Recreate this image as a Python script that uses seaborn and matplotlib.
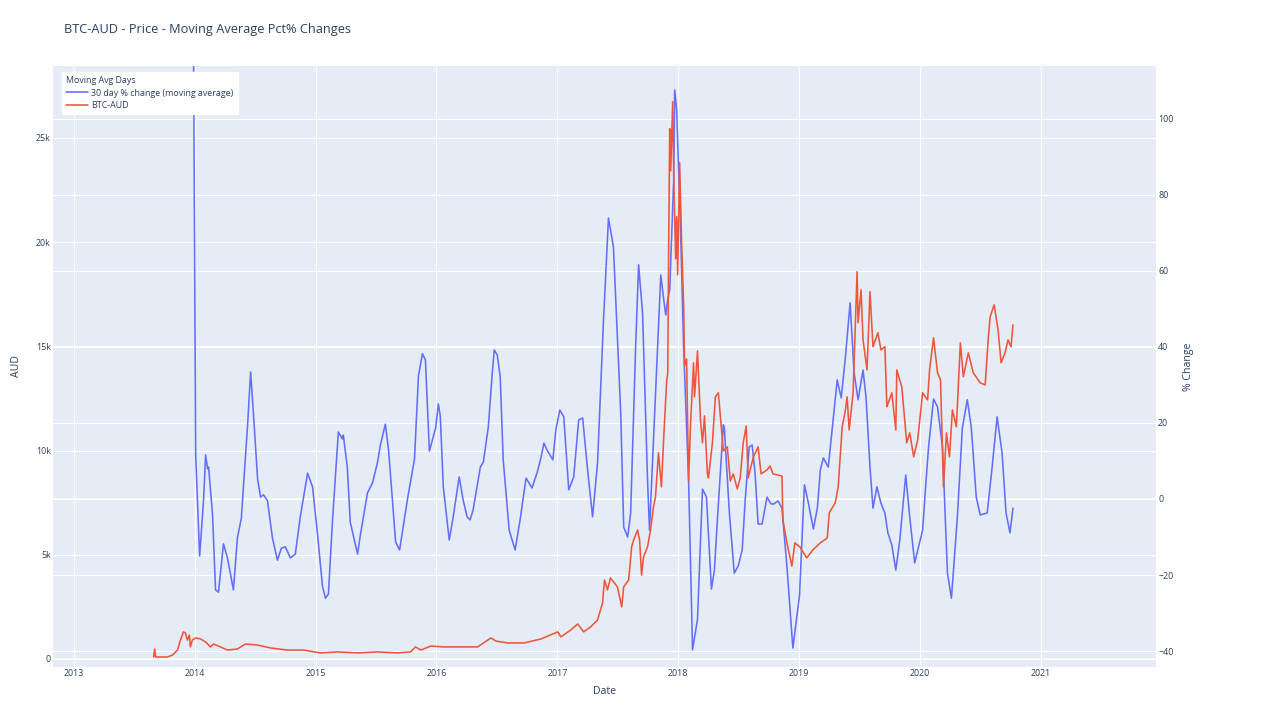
import matplotlib
matplotlib.use("Agg")
import matplotlib.pyplot as plt
import matplotlib.dates as mdates
import matplotlib.ticker as mticker
import pandas as pd
import seaborn as sns

# ---------------- data ----------------
pct_dates = [
    "2013-12-26",
    "2014-01-04", "2014-01-16", "2014-01-28", "2014-02-03", "2014-02-09", "2014-02-12", "2014-02-24",
    "2014-03-05", "2014-03-14", "2014-03-29", "2014-04-10", "2014-04-28", "2014-05-10", "2014-05-22",
    "2014-06-10", "2014-06-19", "2014-06-28", "2014-07-10", "2014-07-19", "2014-07-28", "2014-08-09",
    "2014-08-24", "2014-09-08", "2014-09-20", "2014-10-02", "2014-10-17", "2014-11-01", "2014-11-16",
    "2014-12-08", "2014-12-23",
    "2015-01-07", "2015-01-22", "2015-01-31", "2015-02-09", "2015-02-21", "2015-03-11", "2015-03-23",
    "2015-03-26", "2015-04-07", "2015-04-16", "2015-05-08", "2015-05-17", "2015-06-07", "2015-06-22",
    "2015-07-07", "2015-07-16", "2015-07-31", "2015-08-10", "2015-08-31", "2015-09-12", "2015-10-06",
    "2015-10-27", "2015-11-08", "2015-11-20", "2015-11-29", "2015-12-11", "2015-12-30",
    "2016-01-07", "2016-01-13", "2016-01-22", "2016-02-09", "2016-02-21", "2016-03-10", "2016-03-22",
    "2016-04-03", "2016-04-12", "2016-04-21", "2016-05-13", "2016-05-22", "2016-06-06", "2016-06-18",
    "2016-06-24", "2016-07-03", "2016-07-12", "2016-07-21", "2016-08-08", "2016-08-26", "2016-09-10",
    "2016-09-28", "2016-10-16", "2016-10-31", "2016-11-12", "2016-11-21", "2016-11-30", "2016-12-18",
    "2016-12-27",
    "2017-01-08", "2017-01-20", "2017-02-04", "2017-02-19", "2017-03-06", "2017-03-18", "2017-04-02",
    "2017-04-17", "2017-05-02", "2017-05-20", "2017-06-04", "2017-06-19", "2017-07-11", "2017-07-20",
    "2017-08-01", "2017-08-10", "2017-08-25", "2017-09-03", "2017-09-15", "2017-09-30", "2017-10-06",
    "2017-10-19", "2017-11-09", "2017-11-18", "2017-11-24", "2017-11-30", "2017-12-06", "2017-12-18",
    "2017-12-21", "2017-12-27",
    "2018-01-08", "2018-01-17", "2018-02-01", "2018-02-13", "2018-02-28", "2018-03-15", "2018-03-27",
    "2018-04-11", "2018-04-20", "2018-04-29", "2018-05-17", "2018-05-20", "2018-06-04", "2018-06-19",
    "2018-07-01", "2018-07-13", "2018-07-22", "2018-08-03", "2018-08-12", "2018-08-21", "2018-08-30",
    "2018-09-11", "2018-09-26", "2018-10-08", "2018-10-17", "2018-10-29", "2018-11-10", "2018-11-25",
    "2018-12-13",
    "2019-01-02", "2019-01-17", "2019-01-29", "2019-02-13", "2019-02-25", "2019-03-06", "2019-03-15",
    "2019-03-30", "2019-04-11", "2019-04-26", "2019-05-08", "2019-05-20", "2019-06-04", "2019-06-16",
    "2019-06-28", "2019-07-13", "2019-07-22", "2019-08-03", "2019-08-12", "2019-08-24", "2019-09-05",
    "2019-09-17", "2019-09-26", "2019-10-08", "2019-10-20", "2019-11-01", "2019-11-19", "2019-12-01",
    "2019-12-16",
    "2020-01-09", "2020-01-18", "2020-01-27", "2020-02-11", "2020-02-23", "2020-03-09", "2020-03-24",
    "2020-04-05", "2020-04-23", "2020-05-08", "2020-05-23", "2020-06-04", "2020-06-19", "2020-07-01",
    "2020-07-22", "2020-08-06", "2020-08-21", "2020-09-05", "2020-09-17", "2020-09-29", "2020-10-08",
]
pct_change = [
    160.0,
    11.6, -15.0, 0.0, 11.6, 7.9, 8.4, -4.2, -23.9, -24.5, -11.8,
    -15.5, -23.9, -10.3, -5.0, 19.7, 33.4, 21.8, 5.3, 0.5, 1.1,
    -0.5, -10.3, -16.1, -12.9, -12.6, -15.5, -14.5, -4.7, 6.8, 3.2,
    -9.2, -22.9, -26.1, -25.0, -6.1, 17.6, 15.8, 16.8, 8.4, -6.1,
    -14.5, -9.2, 1.6, 4.2, 9.5, 14.2, 19.7, 12.6, -11.3, -13.4,
    0.0, 10.5, 32.4, 38.2, 36.6, 12.6, 18.7,
    25.0, 21.8, 3.2, -10.8, -4.7, 5.8, -0.3, -4.7, -5.5, -2.9,
    8.4, 9.7, 18.9, 33.2, 39.2, 37.9, 32.1, 10.3, -8.2, -13.4,
    -5.5, 5.5, 2.9, 6.8, 10.8, 14.7, 12.9, 10.3, 18.2,
    23.4, 21.6, 2.4, 5.8, 20.8, 21.3, 7.6, -4.7, 9.5, 47.1,
    73.9, 66.3, 22.6, -7.4, -10.0, -3.7, 40.0, 61.6, 48.9, 5.0,
    -8.2, 17.4, 58.9, 52.4, 48.4, 52.4, 55.0, 83.9, 107.6, 102.4,
    70.3, 40.0, 5.0, -39.7, -31.6, 2.6, 0.5, -23.7, -18.7, -5.5,
    19.5, 18.7, -3.4, -19.5, -17.6, -13.4, -0.3, 13.7, 14.2, 6.6,
    -6.6, -6.6, 0.5, -1.3, -1.3, -0.5, -2.4, -17.6, -39.2,
    -25.5, 3.7, -1.1, -7.9, -2.4, 7.6, 10.8, 8.4, 18.7, 31.3,
    26.6, 36.6, 51.6, 33.2, 26.1, 33.9, 26.8, 8.4, -2.4, 3.2,
    -1.1, -3.7, -8.9, -12.1, -18.7, -10.8, 6.3, -4.7, -16.8,
    -8.2, 3.2, 13.7, 26.3, 24.2, 13.7, -19.5, -26.1, -4.7, 18.7,
    26.1, 18.9, 0.5, -4.2, -3.7, 8.4, 21.6, 12.1, -3.7, -8.9,
    -2.4,
]

price_dates = [
    "2013-08-30", "2013-09-02", "2013-09-05", "2013-10-11", "2013-10-26", "2013-11-10", "2013-11-19",
    "2013-11-28", "2013-12-04", "2013-12-10", "2013-12-16", "2013-12-19", "2013-12-25",
    "2014-01-04", "2014-01-19", "2014-02-03", "2014-02-18", "2014-02-27", "2014-03-20", "2014-04-10",
    "2014-05-10", "2014-06-03", "2014-07-09", "2014-08-18", "2014-10-08", "2014-11-26",
    "2015-01-16", "2015-03-08", "2015-05-08", "2015-07-07", "2015-09-06", "2015-10-15", "2015-10-30",
    "2015-11-15", "2015-12-15",
    "2016-01-22", "2016-03-05", "2016-05-05", "2016-06-14", "2016-06-29", "2016-08-04", "2016-09-22",
    "2016-11-12",
    "2017-01-02", "2017-01-11", "2017-02-10", "2017-03-03", "2017-03-21", "2017-04-11", "2017-05-02",
    "2017-05-17", "2017-05-23", "2017-06-01", "2017-06-10", "2017-07-01", "2017-07-14", "2017-07-20",
    "2017-08-04", "2017-08-13", "2017-08-19", "2017-08-31", "2017-09-06", "2017-09-12", "2017-09-18",
    "2017-09-30", "2017-10-09", "2017-10-18", "2017-10-24", "2017-11-02", "2017-11-11", "2017-11-18",
    "2017-11-27", "2017-11-30", "2017-12-03", "2017-12-06", "2017-12-09", "2017-12-15", "2017-12-18",
    "2017-12-24", "2017-12-27", "2017-12-30",
    "2018-01-05", "2018-01-11", "2018-01-17", "2018-01-20", "2018-01-26", "2018-02-01", "2018-02-07",
    "2018-02-16", "2018-02-19", "2018-02-28", "2018-03-09", "2018-03-15", "2018-03-21", "2018-03-30",
    "2018-04-02", "2018-04-14", "2018-04-23", "2018-05-02", "2018-05-11", "2018-05-17", "2018-05-29",
    "2018-06-07", "2018-06-16", "2018-06-28", "2018-07-07", "2018-07-16", "2018-07-25", "2018-07-31",
    "2018-08-15", "2018-08-30", "2018-09-08", "2018-09-26", "2018-10-05", "2018-10-14", "2018-11-10",
    "2018-11-13", "2018-11-25", "2018-12-10", "2018-12-19",
    "2019-01-03", "2019-01-24", "2019-02-11", "2019-03-06", "2019-03-27", "2019-04-02", "2019-04-20",
    "2019-04-29", "2019-05-11", "2019-05-20", "2019-05-26", "2019-06-01", "2019-06-13", "2019-06-25",
    "2019-06-28", "2019-07-07", "2019-07-13", "2019-07-25", "2019-08-03", "2019-08-12", "2019-08-27",
    "2019-09-05", "2019-09-17", "2019-09-23", "2019-10-08", "2019-10-20", "2019-10-23", "2019-11-07",
    "2019-11-22", "2019-12-01", "2019-12-13", "2019-12-25",
    "2020-01-09", "2020-01-24", "2020-01-30", "2020-02-11", "2020-02-23", "2020-03-03", "2020-03-12",
    "2020-03-21", "2020-03-30", "2020-04-08", "2020-04-20", "2020-05-02", "2020-05-11", "2020-05-26",
    "2020-06-10", "2020-07-01", "2020-07-16", "2020-07-25", "2020-07-31", "2020-08-12", "2020-08-24",
    "2020-09-02", "2020-09-14", "2020-09-23", "2020-10-02", "2020-10-08",
]
price_aud = [
    96, 480, 96, 96, 190, 430, 910, 1300, 1250, 910, 1150, 580, 910,
    1010, 960, 815, 580, 720, 580, 430, 480, 720, 670, 530, 430, 430,
    290, 340, 290, 340, 290, 340, 580, 430, 620,
    580, 580, 580, 1010, 860, 770, 770, 960,
    1300, 1060, 1390, 1680, 1300, 1540, 1870, 2690, 3790, 3310, 3890, 3460, 2500, 3460,
    3790, 5380, 5710, 6190, 5710, 4030, 4900, 5380, 6190, 7300, 7780, 9890, 8260, 10660,
    13390, 13680, 20000, 25440, 23420, 26740, 23230, 19200, 21220, 18430,
    23810, 19920, 17000, 14060, 14400, 8540, 11280, 14210, 12580, 14780, 11470, 10370, 11660, 8880,
    8690, 10370, 12580, 12770, 11090, 9980, 10180, 8540, 8880, 8160, 8690, 10370, 11180, 8690,
    9650, 10180, 8880, 9070, 9260, 8880, 8780, 6670, 5570, 4460, 5570,
    5380, 4850, 5230, 5570, 5810, 7010, 7490, 8260, 11140, 11860, 12580, 10990, 12770, 18580,
    16130, 17710, 15310, 13870, 17620, 14980, 15650, 14830, 14980, 12100, 12770, 10990, 13870, 13060,
    10370, 10850, 9700, 10510,
    12770, 12430, 13870, 15410, 13730, 13390, 8260, 10850, 9700, 11950, 11140, 15170, 13540, 14690,
    13730, 13250, 13150, 15310, 16420, 16990, 15790, 14210, 14690, 15310, 14980, 16030,
]

pct_df = pd.DataFrame({"Date": pd.to_datetime(pct_dates), "pct": pct_change})
price_df = pd.DataFrame({"Date": pd.to_datetime(price_dates), "AUD": price_aud})

# ---------------- styling ----------------
BG = "#E5ECF6"
TXT = "#2a3f5f"
BLUE = "#636EFA"
RED = "#EF553B"

sns.set_style("darkgrid", {"axes.facecolor": BG, "grid.color": "white"})
plt.rcParams["font.family"] = ["Open Sans", "DejaVu Sans"]

fig = plt.figure(figsize=(12.8, 7.2), dpi=100)
rect = [53 / 1280, 53 / 720, 1103 / 1280, 601 / 720]

ax_bg = fig.add_axes(rect)
ax_bg.xaxis_date()
ax_bg.set_facecolor(BG)
ax_bg2 = ax_bg.twinx()

ax_r = fig.add_axes(rect, sharex=ax_bg)   # blue line (right scale)
ax_l = fig.add_axes(rect, sharex=ax_bg)   # red line (left scale)

sns.lineplot(data=pct_df, x="Date", y="pct", ax=ax_r, color=BLUE, lw=1.15,
             estimator=None, label="30 day % change (moving average)")
sns.lineplot(data=price_df, x="Date", y="AUD", ax=ax_l, color=RED, lw=1.15,
             estimator=None, label="BTC-AUD")

h1, l1 = ax_r.get_legend_handles_labels()
h2, l2 = ax_l.get_legend_handles_labels()
for a in (ax_r, ax_l):
    if a.get_legend() is not None:
        a.get_legend().remove()
    a.patch.set_visible(False)
    a.axis("off")

left_lim = (-384, 28450)
right_lim = (-44.2, 113.9)
for a in (ax_bg, ax_l):
    a.set_ylim(*left_lim)
for a in (ax_bg2, ax_r):
    a.set_ylim(*right_lim)
ax_bg.set_xlim(pd.Timestamp("2012-10-30"), pd.Timestamp("2021-12-14"))

ax_bg.xaxis.set_major_locator(mdates.YearLocator())
ax_bg.xaxis.set_major_formatter(mdates.DateFormatter("%Y"))
ax_bg.yaxis.set_major_locator(mticker.MultipleLocator(5000))
ax_bg.yaxis.set_major_formatter(
    mticker.FuncFormatter(lambda v, p: "0" if abs(v) < 1e-9 else f"{int(round(v / 1000))}k"))
ax_bg2.yaxis.set_major_locator(mticker.MultipleLocator(20))

ax_bg.grid(True, axis="both", color="white", lw=0.8)
ax_bg2.grid(True, axis="y", color="white", lw=0.8)
ax_bg2.grid(False, axis="x")
ax_bg.axhline(0, color="white", lw=1.1, zorder=1)
ax_bg2.axhline(0, color="white", lw=1.1, zorder=1)

for a in (ax_bg, ax_bg2):
    for s in a.spines.values():
        s.set_visible(False)
    a.tick_params(length=0, labelsize=6.4, colors=TXT, pad=1.5)

ax_bg.set_xlabel("Date", fontsize=7.6, color=TXT, labelpad=6)
ax_bg.set_ylabel("AUD", fontsize=7.6, color=TXT, labelpad=10)
ax_bg2.set_ylabel("% Change", fontsize=7.6, color=TXT, labelpad=7)

fig.text(64 / 1280, 1 - 29 / 720, "BTC-AUD - Price - Moving Average Pct% Changes",
         fontsize=9.2, color=TXT, ha="left", va="center")

leg = ax_l.legend(h1 + h2, l1 + l2, title="Moving Avg Days", loc="upper left",
                  bbox_to_anchor=(0.008, 0.99), fontsize=6.4, title_fontsize=6.4,
                  frameon=True, facecolor="white", edgecolor="white", framealpha=1,
                  fancybox=False, alignment="left", handlelength=2.4, handletextpad=0.4,
                  labelspacing=0.35, borderpad=0.5, borderaxespad=0)
for t in leg.get_texts():
    t.set_color(TXT)
leg.get_title().set_color(TXT)

fig.savefig("out.png", dpi=100, facecolor="white")
